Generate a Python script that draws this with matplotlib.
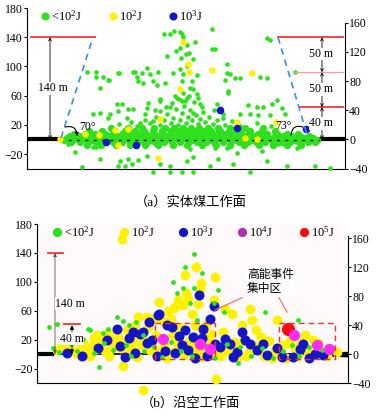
import numpy as np
import matplotlib
matplotlib.use('Agg')
import matplotlib.pyplot as plt

plt.rcParams['font.family'] = ['Liberation Serif', 'Noto Sans CJK SC']
plt.rcParams['mathtext.fontset'] = 'custom'
plt.rcParams['mathtext.rm'] = 'Liberation Serif'
plt.rcParams['mathtext.it'] = 'Liberation Serif:italic'
plt.rcParams['axes.unicode_minus'] = True

GREEN = '#2ee01e'
YELLOW = '#fff200'
BLUE = '#1414c8'
MAGENTA = '#ff2cff'
RED = '#ff0a0a'

# ---------------- (a) solid coal face: events (x = along face, y = height m)
band_a_levels = [-7, -4, -1, 2, 5, 8, 11, 15]
band_a_x = [
    [60, 74, 89, 103, 118, 131, 146, 160, 175, 189, 203, 217, 232, 246, 260, 274],
    [44, 53, 61, 69, 78, 86, 95, 103, 111, 120, 128, 137, 145, 153, 162, 170, 179, 187, 196, 204,
     212, 221, 229, 238, 246, 255, 263, 272, 281, 288],
    [37, 45, 52, 59, 66, 73, 80, 88, 95, 102, 109, 116, 124, 131, 138, 145, 152, 160, 167, 174, 181,
     188, 196, 203, 210, 217, 224, 232, 239, 246, 253, 260, 268, 275, 282, 290],
    [40, 48, 56, 63, 70, 77, 84, 92, 99, 106, 113, 120, 127, 134, 142, 149, 156, 163, 170, 178, 185,
     192, 199, 206, 214, 221, 228, 235, 242, 250, 257, 264, 271, 278, 286],
    [43, 52, 60, 67, 75, 82, 89, 96, 104, 111, 118, 125, 132, 139, 147, 154, 161, 168, 175, 183, 190,
     197, 204, 211, 219, 226, 233, 240, 248, 256, 264, 273, 282],
    [47, 58, 68, 78, 87, 95, 103, 111, 119, 127, 135, 143, 151, 158, 166, 174, 182, 190, 198, 206,
     214, 222, 231, 240, 250, 260, 271],
    [62, 75, 87, 98, 108, 117, 126, 135, 144, 152, 160, 168, 176, 184, 193, 202, 212, 223, 235, 248],
    [84, 101, 115, 127, 138, 147, 156, 164, 172, 181, 191, 203, 218, 236],
]
green_a = [
    # plume base above the dense band
    (92, 21), (104, 24), (110, 19), (118, 27), (123, 22), (129, 31), (133, 20), (137, 26),
    (140, 35), (144, 23), (146, 30), (149, 41), (151, 20), (153, 27), (155, 36), (157, 46),
    (159, 22), (161, 31), (163, 40), (165, 26), (167, 51), (169, 33), (171, 21), (173, 28),
    (176, 38), (178, 24), (182, 31), (186, 21), (190, 27), (198, 20), (205, 25), (213, 19),
    (145, 50), (152, 55), (162, 60), (139, 45), (128, 40), (175, 44), (118, 35), (100, 30),
    (187, 40), (230, 22), (244, 18), (196, 29),
    # scattered events
    (137, 145), (143, 144), (147, 149), (153, 147), (155, 144), (156, 140), (160, 130), (168, 133),
    (185, 151), (188, 124), (149, 121), (153, 125), (159, 117), (162, 118), (140, 114), (154, 111),
    (166, 110), (160, 100), (153, 96), (120, 98), (108, 93), (115, 91), (123, 89), (131, 92),
    (146, 91), (156, 89), (170, 88), (200, 91), (91, 91), (76, 85), (82, 82), (111, 80), (116, 77),
    (126, 80), (155, 80), (165, 80), (198, 82), (163, 70), (156, 64), (133, 55), (150, 57),
    (160, 57), (171, 57), (60, 92), (69, 92), (69, 85), (81, 81), (92, 91), (73, 70), (106, 92),
    (110, 85), (130, 75), (138, 77), (90, 48), (91, 39), (83, 35), (106, 41), (121, 50), (148, 59),
    (155, 52), (143, 44), (95, 48), (66, 35), (73, 36), (81, 29), (101, 41), (120, 43), (133, 53),
    (133, 39), (158, 53), (166, 36), (126, 25), (113, 23), (173, 48), (170, 62), (201, 64),
    (190, 48), (221, 47), (230, 44), (245, 48), (255, 43), (213, 35), (223, 35), (196, 35),
    (258, 35), (240, 139), (243, 136), (200, 103), (203, 89), (208, 84), (213, 84), (233, 85),
    (240, 84), (268, 92), (201, 67), (185, 124), (166, 69), (250, 54), (236, 44), (243, 33),
    (231, 33), (41, -6), (48, -17), (55, -38), (69, -10), (73, -27), (91, -36), (98, -36),
    (105, -34), (111, -28), (120, -23), (126, -45), (133, -34), (143, -45), (155, -45), (66, -11),
    (93, -29), (101, -27), (143, -37), (160, -29), (188, -12), (200, -12), (210, -18), (235, -16),
    (251, -6), (270, -12), (163, -13), (166, -24), (191, -27), (183, -36), (206, -34), (240, -29),
    (260, -36), (303, -39), (288, -36), (223, -45), (166, -45),
]
yellow_a = [(156, 134), (161, 104), (162, 92), (185, 95), (153, 69), (225, 91), (133, 28), (88, 13),
            (101, 14), (72, 6), (91, -7), (131, -25), (210, 24), (249, 24), (230, 1), (218, 2),
            (58, 7), (33, 1)]
blue_a = [(109, -8), (79, -3), (193, 40), (210, 16), (279, 14)]

# ---------------- (b) gob-side face
yellow_b = [
    (85, 159), (148, 110), (151, 77), (122, 72), (137, 64), (131, 60), (146, 68), (101, 52),
    (110, 52), (116, 49), (71, 29), (159, 121), (178, 107), (164, 99), (163, 90), (149, 84),
    (141, 75), (161, 70), (177, 75), (188, 63), (195, 55), (213, 63), (215, 47), (240, 47),
    (268, 27), (205, 40), (138, 65), (60, 26), (73, 24), (143, 38),
    (25, 10), (29, 5), (36, 4), (44, 8), (50, 3), (56, 12), (63, 14), (68, 4), (78, 15), (84, 8),
    (91, 2), (96, 19), (104, 12), (113, 6), (118, 1), (127, 13), (133, 3), (136, 27), (141, 9),
    (152, 18), (158, 40), (160, 5), (166, 26), (171, 19), (176, 2), (181, 12), (186, 30), (191, 4),
    (197, 17), (200, -6), (207, 22), (212, 3), (219, 33), (222, 9), (227, -3), (232, 18), (238, 6),
    (245, 13), (249, -5), (254, 21), (258, 8), (264, 15), (271, 3), (276, 19), (284, 6),
    (20, 6), (33, 12), (40, 0), (47, 14), (53, -3), (59, 7), (66, 20), (72, -2), (75, 8), (81, 24),
    (88, 16), (94, 9), (100, -4), (107, 20), (111, 38), (119, 26), (124, 5), (130, -5), (139, 18),
    (147, -1), (155, 12), (163, -4), (168, 8), (174, 28), (184, -2), (194, 9), (202, 14),
    (209, -2), (216, 12), (224, 24), (235, -5), (242, 4), (251, 15), (261, -3), (267, 10),
    (281, 15), (290, -2), (300, 3), (57, 22), (90, 33), (98, 40), (126, 46), (134, 48), (169, 40),
    (155, 55), (86, -17), (106, -49), (179, -35),
]
blue_b = [(122, 56), (106, 31), (80, 35), (130, 40), (148, 33), (145, 13), (162, 82), (177, 66),
          (166, 35), (173, 49), (205, 31), (193, 14), (213, 14), (156, 24), (263, 7), (256, -4),
          (103, 28), (115, 20), (121, 54), (61, 8), (83, 11), (98, 1), (110, 15), (120, -2),
          (138, 1), (151, 6), (170, -3), (183, 10), (188, 21), (200, 3), (220, 6), (230, -1),
          (240, 8), (278, 0), (92, 22), (30, 2), (45, -2), (70, 20), (88, -4), (96, 30), (128, 4),
          (142, 25), (158, -5), (165, 22), (178, 14), (196, -4), (208, 20), (226, 14), (245, -4),
          (266, 14), (272, -5), (286, -1), (112, 44), (135, 38)]
magenta_b = [(126, 21), (163, 14), (173, 7), (257, 27), (280, 13), (292, 7)]
red_b = [(251, 35)]
green_b = [(12, 37), (20, 42), (62, -18), (136, 100), (146, 92), (148, 121), (157, 138), (165, 112),
           (157, 91), (181, 89), (140, 84), (153, 71), (177, 71), (80, 52), (86, 46), (51, 35),
           (66, 29), (30, 27), (53, 33), (46, 21), (71, 35), (201, -12), (228, 58), (261, 47),
           (16, 8), (22, 3), (34, 14), (40, 4), (57, 2), (67, 16), (76, 6), (89, 12), (94, -3),
           (107, 4), (117, 10), (125, -4), (134, 17), (144, 4), (155, -2), (168, 12), (178, -5),
           (190, 14), (203, 10), (214, -2), (225, 8), (236, -6), (246, 4), (255, 12), (262, -2),
           (272, 10), (285, 5), (290, 8), (106, 26), (92, 40), (99, 45), (187, 58), (160, 47)]

left_ticks = [-20, 20, 60, 100, 140, 180]
right_ticks = [-40, 0, 40, 80, 120, 160]


def xy(pts):
    a = np.array(pts, dtype=float)
    return a[:, 0], a[:, 1]


def setup_axes(ax, xmax, right_top):
    ax.set_xlim(0, xmax)
    ax.set_ylim(-40, 180)
    for s in ['top', 'right']:
        ax.spines[s].set_visible(False)
    ax.set_xticks([])
    ax.set_yticks(left_ticks)
    ax.tick_params(axis='y', direction='out', length=2.5, width=0.8, pad=0.5, labelsize=8.5)
    tw = ax.twinx()
    tw.set_ylim(-40, 180)
    for s in ['top', 'left', 'bottom']:
        tw.spines[s].set_visible(False)
    tw.spines['right'].set_bounds(-40, right_top)
    tw.set_yticks(right_ticks)
    tw.tick_params(axis='y', direction='out', length=2.5, width=0.8, pad=0.5, labelsize=8.5)
    return tw


fig = plt.figure(figsize=(3.81, 4.16), dpi=100)

# ================= (a)
ax = fig.add_axes([0.0709, 0.5947, 0.8346, 0.386])
setup_axes(ax, 318, 160)

ax.plot([0, 33], [0, 0], color='black', lw=3.0, solid_capstyle='butt', zorder=2)
ax.plot([292, 318], [0, 0], color='black', lw=3.0, solid_capstyle='butt', zorder=2)

bx, by = [], []
for lev, xs in zip(band_a_levels, band_a_x):
    bx += xs
    by += [lev] * len(xs)
ax.scatter(bx, by, s=28, color=GREEN, linewidths=0, zorder=3)
gx, gy = xy(green_a)
ax.scatter(gx, gy, s=11, color=GREEN, linewidths=0, zorder=3, clip_on=False)
ax.plot([33, 292], [-1, -1], color='black', lw=1.0, ls=(0, (2, 4)), zorder=3.5)
yx, yy = xy(yellow_a)
ax.scatter(yx, yy, s=22, color=YELLOW, linewidths=0, zorder=4)
ux, uy = xy(blue_a)
ax.scatter(ux, uy, s=30, color=BLUE, linewidths=0, zorder=4)

# geometry annotations
ax.plot([4, 68], [140, 140], color='#ff3030', lw=1.3, zorder=5)
ax.plot([34, 66], [2, 140], color='#3a8ee6', lw=1.2, ls=(0, (4, 3)), zorder=5)
ax.annotate('', xy=(23, 140), xytext=(23, 0),
            arrowprops=dict(arrowstyle='<->', lw=0.6, color='black', mutation_scale=5,
                            shrinkA=0, shrinkB=0), zorder=5)
ax.text(26, 70, '140 m', fontsize=8.5, ha='center', va='center', zorder=6,
        bbox=dict(facecolor='white', edgecolor='none', pad=0.5))
ax.annotate('', xy=(50, 4), xytext=(38, 17),
            arrowprops=dict(arrowstyle='-|>', lw=0.8, color='black', mutation_scale=5,
                            connectionstyle='arc3,rad=-0.6', shrinkA=0, shrinkB=0), zorder=6)
ax.text(61, 17, '70°', fontsize=8.5, ha='center', va='center', zorder=6)

ax.plot([251, 316], [140, 140], color='#ff3030', lw=1.3, zorder=5)
ax.plot([267, 316], [92, 92], color='#ff9a9a', lw=0.9, zorder=5)
ax.plot([273, 316], [44, 44], color='#ff3030', lw=1.3, zorder=5)
ax.plot([251, 281], [140, 2], color='#3a8ee6', lw=1.2, ls=(0, (4, 3)), zorder=5)
for y0, y1 in [(140, 92), (92, 44), (44, 0)]:
    ax.annotate('', xy=(295, y0), xytext=(295, y1),
                arrowprops=dict(arrowstyle='<->', lw=0.6, color='black', mutation_scale=5,
                                shrinkA=0, shrinkB=0), zorder=5)
for ty, lab in [(117, '50 m'), (69, '50 m'), (22, '40 m')]:
    ax.text(294, ty, lab, fontsize=8.5, ha='center', va='center', zorder=6,
            bbox=dict(facecolor='white', edgecolor='none', pad=0.3))
ax.annotate('', xy=(264, 6), xytext=(276, 17),
            arrowprops=dict(arrowstyle='-', lw=0.8, color='black',
                            connectionstyle='arc3,rad=0.6', shrinkA=0, shrinkB=0), zorder=6)
ax.text(257, 19, '73°', fontsize=8.5, ha='center', va='center', zorder=6)

# legend (a)
leg_a = [(0.057, GREEN, '<10$^{2}$J'), (0.27, YELLOW, '10$^{2}$J'), (0.459, BLUE, '10$^{3}$J')]
for lx, c, lab in leg_a:
    ax.scatter([lx], [0.95], s=34, color=c, linewidths=0, transform=ax.transAxes, clip_on=False,
               zorder=6)
    ax.text(lx + 0.02, 0.95, lab, transform=ax.transAxes, fontsize=9, va='center', ha='left')

fig.text(0.5, 1 - 202 / 416, '（a）实体煤工作面', fontsize=9.5, ha='center', va='center')

# ================= (b)
ax2 = fig.add_axes([0.0971, 0.0793, 0.8163, 0.3822])
ax2.set_facecolor('#fefafa')
setup_axes(ax2, 311, 164)

ax2.plot([0, 17], [0, 0], color='black', lw=3.0, solid_capstyle='butt', zorder=2)
ax2.plot([17, 275], [0, 0], color='black', lw=1.2, zorder=2)
ax2.fill_between([272, 311], [-1.5, -4], [1.5, 4], color='black', linewidth=0, zorder=2)

for pts, c, s in [(yellow_b, YELLOW, 50), (blue_b, BLUE, 52), (green_b, GREEN, 12),
                  (red_b, RED, 90), (magenta_b, MAGENTA, 66)]:
    px_, py_ = xy(pts)
    ax2.scatter(px_, py_, s=s, color=c, linewidths=0, zorder=3, clip_on=False)

ax2.plot([11, 26], [140, 140], color='#ff3030', lw=1.3, zorder=5)
ax2.plot([27, 43], [42, 42], color='#ff3030', lw=1.3, zorder=5)
ax2.annotate('', xy=(18, 140), xytext=(18, 0),
             arrowprops=dict(arrowstyle='<|-|>', lw=0.6, color='#555555', mutation_scale=5,
                             shrinkA=0, shrinkB=0), zorder=5)
ax2.annotate('', xy=(35, 40), xytext=(35, 0),
             arrowprops=dict(arrowstyle='<|-|>', lw=0.6, color='black', mutation_scale=6,
                             shrinkA=0, shrinkB=0), zorder=5)
ax2.text(33, 70, '140 m', fontsize=8.5, ha='center', va='center', zorder=6,
         bbox=dict(facecolor='white', edgecolor='none', pad=0.3))
ax2.text(35, 21, '40 m', fontsize=8.5, ha='center', va='center', zorder=6,
         bbox=dict(facecolor='white', edgecolor='none', pad=0.3))

for x0, x1 in [(118, 178), (242, 298)]:
    ax2.plot([x0, x1, x1, x0, x0], [43, 43, -7, -7, 43], color='#ff2a2a', lw=1.0,
             ls=(0, (4, 3)), zorder=5, clip_on=False)
ax2.plot([205, 178], [78, 61], color='#ff6060', lw=0.8, zorder=5)
ax2.plot([242, 250], [78, 58], color='#ff6060', lw=0.8, zorder=5)
ax2.text(210, 100, '高能事件\n集中区', fontsize=8.5, ha='left', va='center', linespacing=1.2,
         zorder=6, bbox=dict(facecolor='white', edgecolor='none', pad=0.5))

leg_b = [(0.064, GREEN, '<10$^{2}$J'), (0.28, YELLOW, '10$^{2}$J'), (0.469, BLUE, '10$^{3}$J'),
         (0.659, '#b030b0', '10$^{4}$J'), (0.859, RED, '10$^{5}$J')]
for lx, c, lab in leg_b:
    ax2.scatter([lx], [0.95], s=44, color=c, linewidths=0, transform=ax2.transAxes, clip_on=False,
                zorder=6)
    ax2.text(lx + 0.022, 0.95, lab, transform=ax2.transAxes, fontsize=9, va='center', ha='left')

fig.text(0.5, 1 - 403 / 416, '（b）沿空工作面', fontsize=9.5, ha='center', va='center')

plt.savefig('out.png', dpi=100)
